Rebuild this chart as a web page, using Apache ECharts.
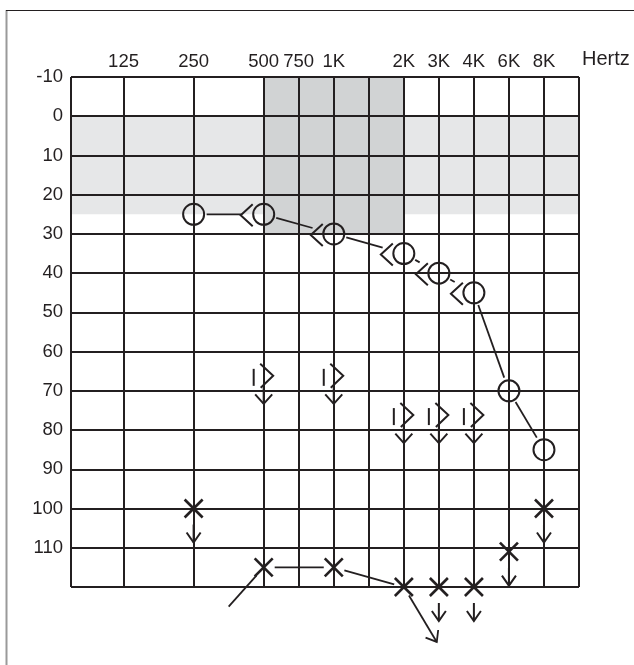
<!DOCTYPE html>
<html><head><meta charset="utf-8">
<script src="https://cdn.jsdelivr.net/npm/echarts@6/dist/echarts.min.js"></script>
<style>html,body{margin:0;padding:0;background:#fff}#c{width:634px;height:665px}</style>
</head><body><div id="c"></div>
<script>
// ---- axis definitions ----
const freqHz = [125, 250, 500, 750, 1000, 1500, 2000, 3000, 4000, 6000, 8000];
const freqPos = [0, 1, 2, 2.5, 3, 3.5, 4, 4.5, 5, 5.5, 6];
const freqTickLabels = ['125', '250', '500', '750', '1K', '', '2K', '3K', '4K', '6K', '8K'];
const xMin = -0.75, xMax = 6.5;
const dbMin = -10, dbMax = 120, dbStep = 10;

// ---- shaded zones ----
const normalBandDb = [0, 25];
const speechZoneHz = [500, 2000];
const speechZoneDb = [-10, 30];

// ---- right ear air conduction (O) ----
const rightAirHz = [250, 500, 1000, 2000, 3000, 4000, 6000, 8000];
const rightAirDb = [25, 25, 30, 35, 40, 45, 70, 85];
// ---- right ear bone conduction (<) ----
const rightBoneHz = [500, 1000, 2000, 3000, 4000];
const rightBoneDb = [25, 30, 35, 40, 45];
// ---- masked bone conduction, no response ----
const boneNRHz = [500, 1000, 2000, 3000, 4000];
const boneNRDb = [70, 70, 80, 80, 80];
// ---- left ear air conduction (X) ----
const leftAirHz = [250, 500, 1000, 2000, 3000, 4000, 6000, 8000];
const leftAirDb = [100, 115, 115, 120, 120, 120, 111, 100];
const leftAirNRHz = [250, 3000, 4000, 6000, 8000];
const leftLinkHz = [500, 1000, 2000];
const leftLinkDb = [115, 115, 120];
// ---- off-grid connector lines (axis units: position, dB) ----
const leftTailLine = [2, 115, 1.5, 125];
const leftArrowLine = [4, 120, 4.47, 134];

const ink = '#231f20';
const font = '"Liberation Sans", Arial, Helvetica, sans-serif';
function pos(hz) { return freqPos[freqHz.indexOf(hz)]; }

function pl(points, cx, cy, lw) {
  return { type: 'polyline', shape: { points: points.map(p => [cx + p[0], cy + p[1]]) },
           style: { stroke: ink, lineWidth: lw || 2, fill: null } };
}

// data tables built from arrays
const shadeData = [
  [xMin, normalBandDb[0], xMax, normalBandDb[1], 0],
  [pos(speechZoneHz[0]), speechZoneDb[0], pos(speechZoneHz[1]), speechZoneDb[1], 1]
];
const circleData = rightAirHz.map((h, i) => [pos(h), rightAirDb[i]]);
const circleSegs = [];
for (let i = 0; i < rightAirHz.length - 1; i++) {
  const endHasBone = rightBoneHz.indexOf(rightAirHz[i + 1]) >= 0 ? 1 : 0;
  circleSegs.push([pos(rightAirHz[i]), rightAirDb[i], pos(rightAirHz[i + 1]), rightAirDb[i + 1], 13, endHasBone ? 22 : 14, 0]);
}
const xSegs = [];
for (let i = 0; i < leftLinkHz.length - 1; i++) {
  xSegs.push([pos(leftLinkHz[i]), leftLinkDb[i], pos(leftLinkHz[i + 1]), leftLinkDb[i + 1], 11, 10, 0]);
}
xSegs.push(leftTailLine.concat([11, 0, 0]));
xSegs.push(leftArrowLine.concat([10, 0, 1]));
const allSegs = circleSegs.concat(xSegs);
const boneData = rightBoneHz.map((h, i) => [pos(h), rightBoneDb[i]]);
const boneNRData = boneNRHz.map((h, i) => [pos(h), boneNRDb[i]]);
const xData = leftAirHz.map((h, i) => [pos(h), leftAirDb[i], leftAirNRHz.indexOf(h) >= 0 ? 1 : 0]);

const option = {
  animation: false,
  backgroundColor: '#fff',
  title: { text: 'Hertz', left: 577, top: 44,
           textStyle: { fontSize: 20, fontWeight: 'normal', color: ink, fontFamily: font } },
  graphic: [
    { type: 'line', shape: { x1: 6.5, y1: 10, x2: 6.5, y2: 665 }, style: { stroke: '#9a9a9a', lineWidth: 2 } },
    { type: 'line', shape: { x1: 6, y1: 10.5, x2: 634, y2: 10.5 }, style: { stroke: ink, lineWidth: 1 } }
  ],
  grid: { left: 71, right: 55, top: 77, bottom: 78 },
  xAxis: {
    type: 'value', position: 'top', min: xMin, max: xMax, z: 10,
    axisLine: { show: false },
    axisTick: { show: false, customValues: [xMin].concat(freqPos, [xMax]) },
    axisLabel: {
      customValues: freqPos.filter((p, i) => freqTickLabels[i] !== ''),
      formatter: v => { const i = freqPos.findIndex(p => Math.abs(p - v) < 1e-6); return i >= 0 ? freqTickLabels[i] : ''; },
      fontSize: 18.5, color: ink, margin: 6, fontFamily: font
    },
    splitLine: { show: true, lineStyle: { color: ink, width: 2 } }
  },
  yAxis: {
    type: 'value', inverse: true, min: dbMin, max: dbMax, interval: dbStep, z: 10,
    axisLine: { show: false }, axisTick: { show: false },
    axisLabel: { formatter: v => v === dbMax ? '' : String(v), fontSize: 18.5, color: ink, margin: 8, fontFamily: font },
    splitLine: { show: true, lineStyle: { color: ink, width: 2 } }
  },
  series: [
    { type: 'custom', name: 'shade', z: 1, data: shadeData, encode: { x: [0, 2], y: [1, 3] },
      renderItem: (params, api) => {
        const a = api.coord([api.value(0), api.value(1)]);
        const b = api.coord([api.value(2), api.value(3)]);
        return { type: 'rect', shape: { x: a[0], y: a[1], width: b[0] - a[0], height: b[1] - a[1] },
                 style: { fill: api.value(4) ? '#d1d3d4' : '#e6e7e8' } };
      } },
    { type: 'custom', name: 'links', z: 3, clip: false, data: allSegs, encode: { x: [0, 2], y: [1, 3] },
      renderItem: (params, api) => {
        const a = api.coord([api.value(0), api.value(1)]);
        const b = api.coord([api.value(2), api.value(3)]);
        const dx = b[0] - a[0], dy = b[1] - a[1], L = Math.hypot(dx, dy);
        const ux = dx / L, uy = dy / L, g1 = api.value(4), g2 = api.value(5);
        if (L <= g1 + g2) return null;
        const s = [a[0] + ux * g1, a[1] + uy * g1], e = [b[0] - ux * g2, b[1] - uy * g2];
        const children = [{ type: 'line', shape: { x1: s[0], y1: s[1], x2: e[0], y2: e[1] }, style: { stroke: ink, lineWidth: 1.8 } }];
        if (api.value(6)) {
          const ang = Math.atan2(-uy, -ux), len = 12, sp = 0.66;
          const p1 = [e[0] + len * Math.cos(ang + sp), e[1] + len * Math.sin(ang + sp)];
          const p2 = [e[0] + len * Math.cos(ang - sp), e[1] + len * Math.sin(ang - sp)];
          children.push({ type: 'polyline', shape: { points: [p1, e, p2] }, style: { stroke: ink, lineWidth: 1.8, fill: null } });
        }
        return { type: 'group', children };
      } },
    { type: 'custom', name: 'Right air', z: 4, clip: false, data: circleData, encode: { x: 0, y: 1 },
      renderItem: (params, api) => {
        const c = api.coord([api.value(0), api.value(1)]);
        return { type: 'circle', shape: { cx: c[0], cy: c[1], r: 10.5 }, style: { stroke: ink, fill: null, lineWidth: 2 } };
      } },
    { type: 'custom', name: 'Right bone', z: 4, clip: false, data: boneData, encode: { x: 0, y: 1 },
      renderItem: (params, api) => {
        const c = api.coord([api.value(0), api.value(1)]);
        return pl([[-11, -10], [-23, 1], [-11, 12]], c[0], c[1], 2);
      } },
    { type: 'custom', name: 'Masked bone NR', z: 4, clip: false, data: boneNRData, encode: { x: 0, y: 1 },
      renderItem: (params, api) => {
        const c = api.coord([api.value(0), api.value(1)]);
        return { type: 'group', children: [
          pl([[-10, -22], [-10, -5]], c[0], c[1], 2),
          pl([[-3.5, -27], [9.5, -15], [-3, -3]], c[0], c[1], 2),
          pl([[0, -5], [0, 13]], c[0], c[1], 2),
          pl([[-8.5, 3.5], [0, 13], [8.5, 3.5]], c[0], c[1], 2)
        ] };
      } },
    { type: 'custom', name: 'Left air', z: 4, clip: false, data: xData, encode: { x: 0, y: 1 },
      renderItem: (params, api) => {
        const c = api.coord([api.value(0), api.value(1)]);
        const ch = [
          pl([[-9, -9], [9, 9]], c[0], c[1], 2.6),
          pl([[-9, 9], [9, -9]], c[0], c[1], 2.6)
        ];
        if (api.value(2)) {
          ch.push(pl([[0, 16], [0, 34]], c[0], c[1], 2));
          ch.push(pl([[-7, 24], [0, 34], [7, 24]], c[0], c[1], 2));
        }
        return { type: 'group', children: ch };
      } }
  ]
};
const chart = echarts.init(document.getElementById('c'));
chart.setOption(option);
</script></body></html>
